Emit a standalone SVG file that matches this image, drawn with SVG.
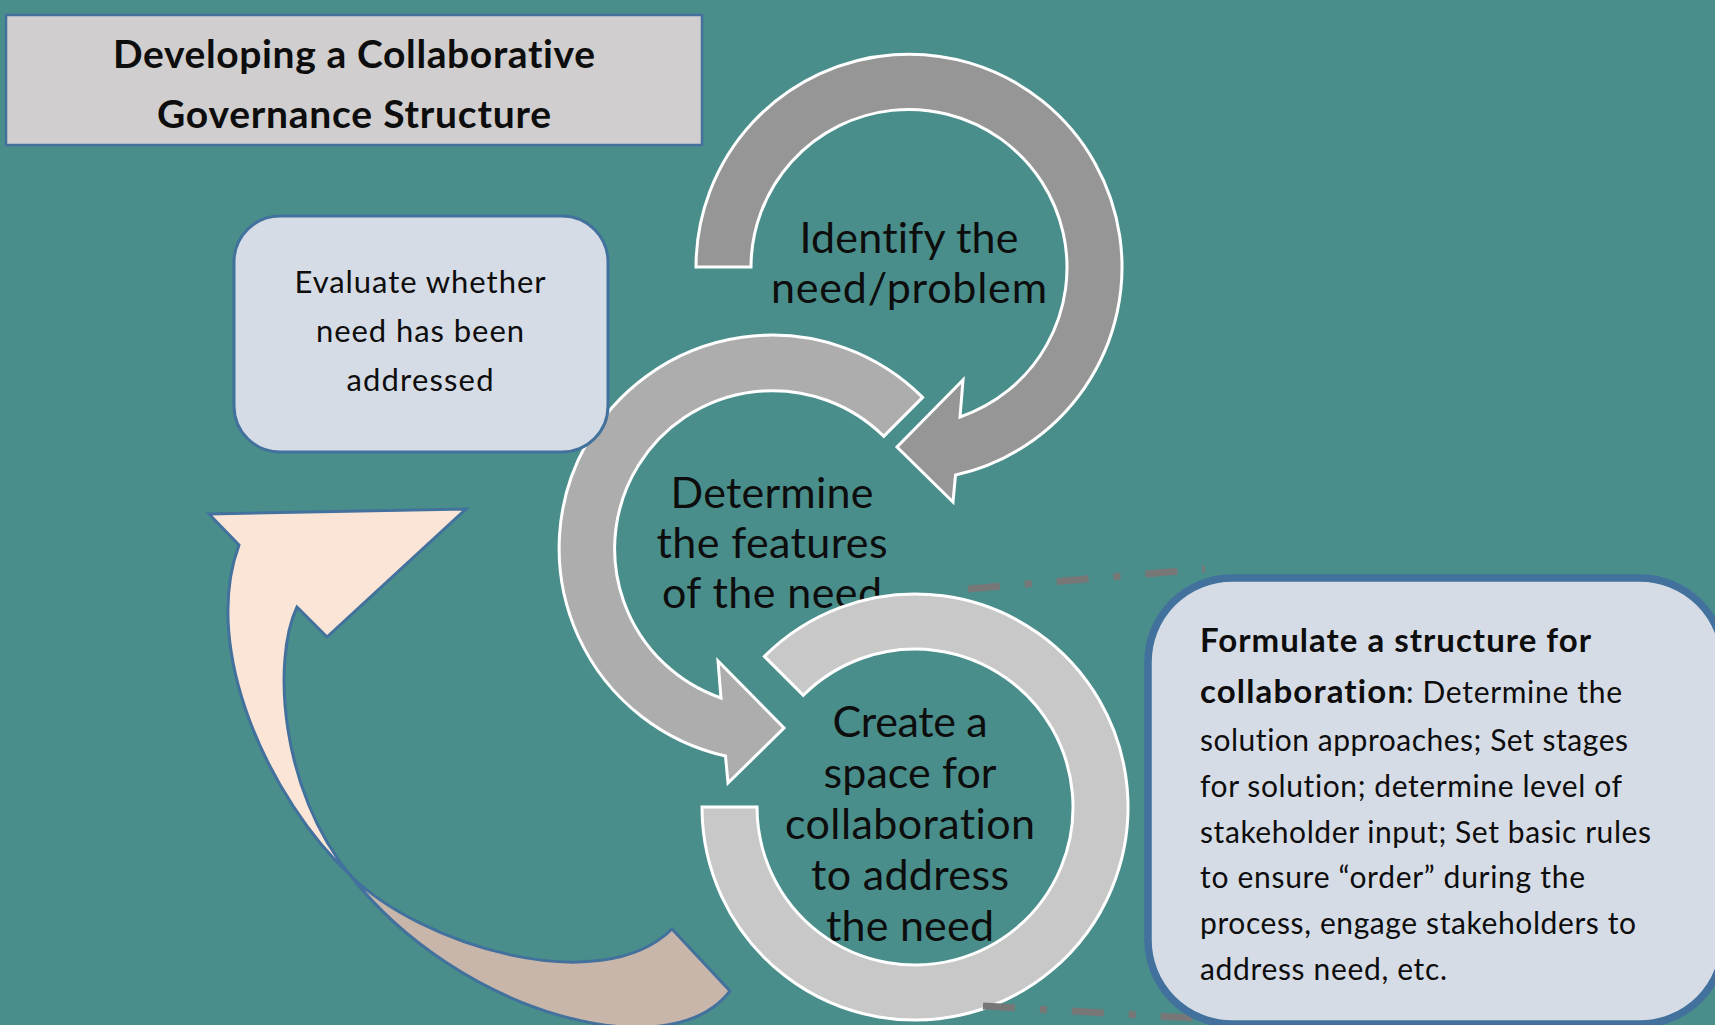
<svg xmlns="http://www.w3.org/2000/svg" width="1715" height="1025" viewBox="0 0 1715 1025">
  <style>
    .txt { font-family: Lato, "Open Sans", "Liberation Sans", sans-serif; fill: #0d0d0d; font-variant-ligatures: none; }
    .title { font-size: 39px; font-weight: 700; text-anchor: middle; }
    .ring-label { font-size: 43px; text-anchor: middle; }
    .box-label { font-size: 31px; text-anchor: middle; }
    .note { font-size: 30px; }
    .note-b { font-size: 33px; font-weight: 700; }
    .ring { stroke: #ffffff; stroke-width: 3; stroke-linejoin: miter; }
    .panel { fill: #d6dce5; stroke: #41719c; }
    .ribbon { stroke: #41719c; stroke-width: 3; stroke-linejoin: miter; }
    .leader { stroke: #777777; stroke-width: 7; stroke-dasharray: 32 25 7 25; fill: none; }
  </style>

  <!-- background -->
  <rect x="0" y="0" width="1715" height="1025" fill="#4a8e8b"/>

  <!-- heading -->
  <g id="title">
    <rect x="6" y="15" width="696" height="130" fill="#d0cece" stroke="#41719c" stroke-width="2.5"/>
    <text class="txt title" x="354" y="68" textLength="482">Developing a Collaborative</text>
    <text class="txt title" x="354" y="128" textLength="394">Governance Structure</text>
  </g>

  <!-- curved return arrow: back fold, then front with head -->
  <g id="return-arrow">
    <path class="ribbon" fill="#c9b6aa"
          d="M 350 875 C 420 945 600 1000 672 929 L 730 991 C 670 1070 460 1015 350 875 Z"/>
    <path class="ribbon" fill="#fbe5d6"
          d="M 239 545 L 209 514 L 466 509 L 327 637 L 297 607 C 272 660 280 790 350 875 C 270 800 200 650 239 545 Z"/>
  </g>

  <!-- step 1 -->
  <g id="step-identify">
    <path class="ring" fill="#969696"
          d="M 696 267 A 213 213 0 1 1 955.5 475 L 953 502 L 897 447 L 963 380 L 960 417 A 158 158 0 1 0 751 267 Z"/>
    <text class="txt ring-label" x="909" y="253" textLength="219">Identify the</text>
    <text class="txt ring-label" x="909" y="303" textLength="276">need/problem</text>
  </g>

  <!-- step 2 -->
  <g id="step-determine">
    <path class="ring" fill="#adadad"
          d="M 922.6 397.4 A 213 213 0 1 0 725.5 756 L 728 783 L 784 728 L 718 661 L 721 698 A 158 158 0 1 1 883.7 436.3 Z"/>
    <text class="txt ring-label" x="772" y="508" textLength="203">Determine</text>
    <text class="txt ring-label" x="772" y="558" textLength="231">the features</text>
    <text class="txt ring-label" x="772" y="608" textLength="220">of the need</text>
  </g>

  <!-- step 3 -->
  <g id="step-create">
    <path class="ring" fill="#c8c8c8"
          d="M 702 807 A 213 213 0 1 0 764.4 656.4 L 803.3 695.3 A 158 158 0 1 1 757 807 Z"/>
    <text class="txt ring-label" x="910" y="737" textLength="155">Create a</text>
    <text class="txt ring-label" x="910" y="788" textLength="173">space for</text>
    <text class="txt ring-label" x="910" y="839" textLength="250">collaboration</text>
    <text class="txt ring-label" x="910" y="890" textLength="198">to address</text>
    <text class="txt ring-label" x="910" y="941" textLength="168">the need</text>
  </g>

  <!-- evaluation step -->
  <g id="step-evaluate">
    <rect class="panel" x="234" y="216" width="374" height="236" rx="46" stroke-width="3"/>
    <text class="txt box-label" x="420" y="293" textLength="251">Evaluate whether</text>
    <text class="txt box-label" x="420" y="342" textLength="208">need has been</text>
    <text class="txt box-label" x="420" y="391" textLength="147">addressed</text>
  </g>

  <!-- dash-dot leaders from step 3 to the detail panel -->
  <g id="connectors">
    <line class="leader" x1="968" y1="589" x2="1205" y2="569"/>
    <line class="leader" x1="983" y1="1006" x2="1262" y2="1022"/>
  </g>

  <!-- detail panel -->
  <g id="detail-formulate">
    <rect class="panel" x="1148" y="578" width="576" height="446" rx="84" stroke-width="7.5"/>
    <text class="txt note-b" x="1200" y="652" textLength="391">Formulate a structure for</text>
    <text class="txt" x="1200" y="703"><tspan class="note-b" textLength="206">collaboration</tspan><tspan class="note" x="1406" textLength="216">: Determine the</tspan></text>
    <text class="txt note" x="1200" y="751" textLength="428">solution approaches; Set stages</text>
    <text class="txt note" x="1200" y="797" textLength="422">for solution; determine level of</text>
    <text class="txt note" x="1200" y="843" textLength="451">stakeholder input; Set basic rules</text>
    <text class="txt note" x="1200" y="888" textLength="385">to ensure “order” during the</text>
    <text class="txt note" x="1200" y="934" textLength="436">process, engage stakeholders to</text>
    <text class="txt note" x="1200" y="980" textLength="247">address need, etc.</text>
  </g>
</svg>
